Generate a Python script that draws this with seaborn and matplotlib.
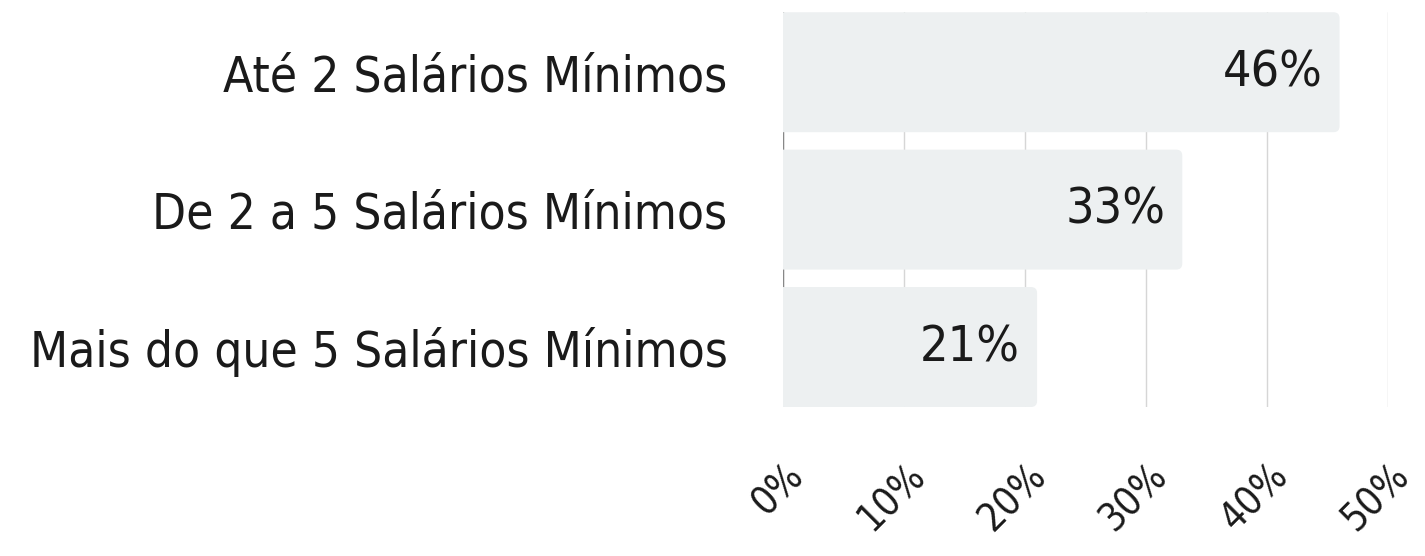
import matplotlib
matplotlib.use("Agg")
import matplotlib.pyplot as plt
from matplotlib import font_manager as fm
from matplotlib import transforms
from matplotlib.patches import FancyBboxPatch
import seaborn as sns
import pandas as pd

categorias = ['Até 2 Salários Mínimos', 'De 2 a 5 Salários Mínimos', 'Mais do que 5 Salários Mínimos']
valores = [46, 33, 21]
ticks = [0, 10, 20, 30, 40, 50]
tick_labels = ['0%', '10%', '20%', '30%', '40%', '50%']

df = pd.DataFrame({'categoria': categorias, 'valor': valores})

sns.set_theme(style='white')

# fonte estreita, se houver
nomes = [(f.name, f.stretch) for f in fm.fontManager.ttflist]
fonte = 'DejaVu Sans'
esticar = 'normal'
if any(n == 'Liberation Sans Narrow' for n, s in nomes):
    fonte = 'Liberation Sans Narrow'
elif any(n == 'DejaVu Sans' and s in ('condensed', 'semi-condensed') for n, s in nomes):
    esticar = 'condensed'
plt.rcParams['font.family'] = [fonte, 'DejaVu Sans']

fig = plt.figure(figsize=(14.25, 5.56), dpi=100)
ax = fig.add_axes([0.5495, 0.268, 0.4245, 0.71])

largura = 0.873
sns.barplot(data=df, x='valor', y='categoria', color='#edf0f1', saturation=1,
            width=largura, ax=ax, zorder=2)

# troca as barras por barras com cantos arredondados
for p in list(ax.patches):
    x, y = p.get_x(), p.get_y()
    w, h = p.get_width(), p.get_height()
    p.remove()
    r = FancyBboxPatch((x - 1, y), w + 1, h, boxstyle='round,pad=0,rounding_size=0.5',
                       mutation_aspect=0.088, facecolor='#edf0f1', edgecolor='none', zorder=2)
    ax.add_patch(r)

for i, v in enumerate(valores):
    ax.text(v - 1.4, i, f'{v}%', ha='right', va='center', fontsize=36,
            fontstretch=esticar, color='#1a1a1a', zorder=3)

ax.set_xlim(0, 50)
ax.set_ylim(2 + largura / 2, -largura / 2)
ax.set_xticks(ticks)
ax.set_xticklabels([])
ax.tick_params(axis='x', length=0)

# rótulos do eixo x inclinados, ancorados pela ponta direita
trans = transforms.blended_transform_factory(ax.transData, ax.transAxes)
trans = trans + transforms.ScaledTranslation(15 / 100, -63 / 100, fig.dpi_scale_trans)
for t, lab in zip(ticks, tick_labels):
    ax.text(t, 0, lab, transform=trans, rotation=45, rotation_mode='anchor',
            ha='right', va='center', fontsize=28, fontstretch=esticar,
            color='#1a1a1a', clip_on=False)

ax.tick_params(axis='y', pad=40, length=0, labelsize=35.5, labelcolor='#1a1a1a')
for t in ax.get_yticklabels():
    t.set_fontstretch(esticar)
ax.xaxis.grid(True, color='#d6d6d6', linewidth=1, zorder=0)
ax.axvline(0, color='#888888', linewidth=1, zorder=1)
ax.set_axisbelow(True)
for s in ax.spines.values():
    s.set_visible(False)
ax.set_xlabel('')
ax.set_ylabel('')

fig.savefig('out.png', dpi=100)
